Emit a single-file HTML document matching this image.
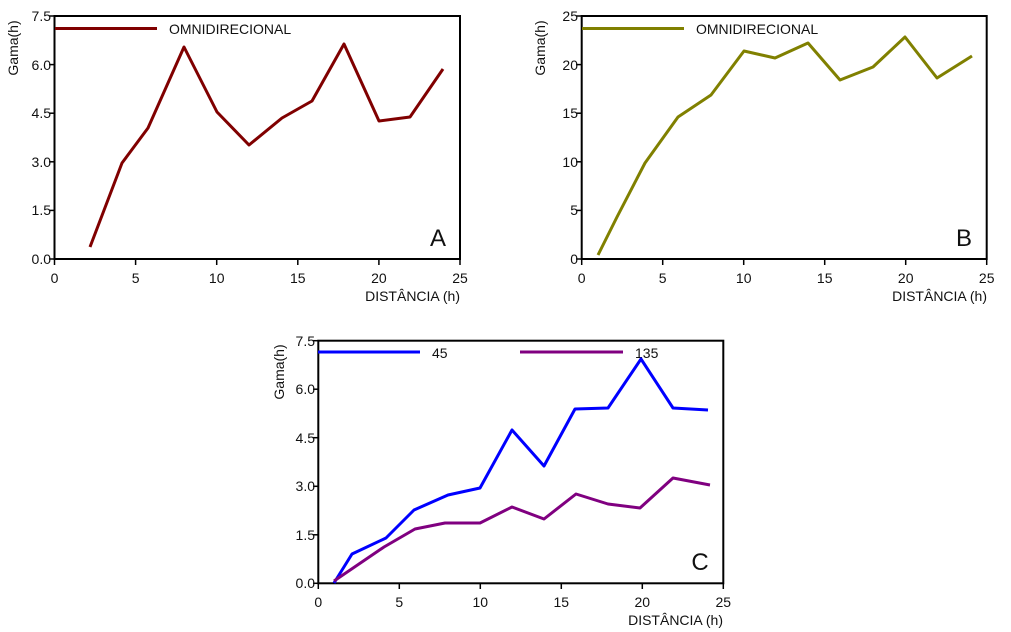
<!DOCTYPE html>
<html><head><meta charset="utf-8"><style>
body{margin:0;background:#fff;}
svg{display:block;font-family:"Liberation Sans",Arial,sans-serif;}
text{fill:#111;}
.t{font-size:14px;}
</style></head><body>
<svg width="1011" height="632" viewBox="0 0 1011 632">
<!-- Panel A -->
<g>
<rect x="54.5" y="16" width="405.5" height="243" fill="none" stroke="#000" stroke-width="2"/>
<g stroke="#000" stroke-width="1.5">
<line x1="54.5" y1="259" x2="54.5" y2="265"/><line x1="135.6" y1="259" x2="135.6" y2="265"/><line x1="216.7" y1="259" x2="216.7" y2="265"/><line x1="297.8" y1="259" x2="297.8" y2="265"/><line x1="378.9" y1="259" x2="378.9" y2="265"/><line x1="460" y1="259" x2="460" y2="265"/>
<line x1="49" y1="16" x2="54.5" y2="16"/><line x1="49" y1="64.6" x2="54.5" y2="64.6"/><line x1="49" y1="113.2" x2="54.5" y2="113.2"/><line x1="49" y1="161.8" x2="54.5" y2="161.8"/><line x1="49" y1="210.4" x2="54.5" y2="210.4"/><line x1="49" y1="259" x2="54.5" y2="259"/>
</g>
<g class="t" text-anchor="end">
<text x="51" y="21">7.5</text><text x="51" y="70">6.0</text><text x="51" y="118">4.5</text><text x="51" y="167">3.0</text><text x="51" y="215">1.5</text><text x="51" y="264">0.0</text>
</g>
<g class="t" text-anchor="middle">
<text x="54.5" y="283">0</text><text x="135.6" y="283">5</text><text x="216.7" y="283">10</text><text x="297.8" y="283">15</text><text x="378.9" y="283">20</text><text x="460" y="283">25</text>
</g>
<text class="t" x="460" y="301" text-anchor="end">DISTÂNCIA (h)</text>
<text class="t" transform="translate(18,48) rotate(-90)" text-anchor="middle">Gama(h)</text>
<text x="438" y="246" font-size="24" text-anchor="middle">A</text>
<line x1="55" y1="28.5" x2="157" y2="28.5" stroke="#800000" stroke-width="3"/>
<text class="t" x="169" y="34">OMNIDIRECIONAL</text>
<polyline fill="none" stroke="#800000" stroke-width="3" stroke-linejoin="round" points="90,247 122,163 148,128 184,47 217,112 249,145 282,118 312,101 344,44 379,121 410,117 443,69"/>
</g>
<!-- Panel B -->
<g>
<rect x="581.7" y="16" width="405" height="243" fill="none" stroke="#000" stroke-width="2"/>
<g stroke="#000" stroke-width="1.5">
<line x1="581.7" y1="259" x2="581.7" y2="265"/><line x1="662.7" y1="259" x2="662.7" y2="265"/><line x1="743.7" y1="259" x2="743.7" y2="265"/><line x1="824.7" y1="259" x2="824.7" y2="265"/><line x1="905.7" y1="259" x2="905.7" y2="265"/><line x1="986.7" y1="259" x2="986.7" y2="265"/>
<line x1="576" y1="16" x2="581.7" y2="16"/><line x1="576" y1="64.6" x2="581.7" y2="64.6"/><line x1="576" y1="113.2" x2="581.7" y2="113.2"/><line x1="576" y1="161.8" x2="581.7" y2="161.8"/><line x1="576" y1="210.4" x2="581.7" y2="210.4"/><line x1="576" y1="259" x2="581.7" y2="259"/>
</g>
<g class="t" text-anchor="end">
<text x="578" y="21">25</text><text x="578" y="70">20</text><text x="578" y="118">15</text><text x="578" y="167">10</text><text x="578" y="215">5</text><text x="578" y="264">0</text>
</g>
<g class="t" text-anchor="middle">
<text x="581.7" y="283">0</text><text x="662.7" y="283">5</text><text x="743.7" y="283">10</text><text x="824.7" y="283">15</text><text x="905.7" y="283">20</text><text x="986.7" y="283">25</text>
</g>
<text class="t" x="987" y="301" text-anchor="end">DISTÂNCIA (h)</text>
<text class="t" transform="translate(545,48) rotate(-90)" text-anchor="middle">Gama(h)</text>
<text x="964" y="246" font-size="24" text-anchor="middle">B</text>
<line x1="582" y1="28.5" x2="684" y2="28.5" stroke="#808000" stroke-width="3"/>
<text class="t" x="696" y="34">OMNIDIRECIONAL</text>
<polyline fill="none" stroke="#808000" stroke-width="3" stroke-linejoin="round" points="598,255 617,217 645,163 678,117 711,95 744,51 775,58 808,43 840,80 873,67 905,37 937,78 972,56"/>
</g>
<!-- Panel C -->
<g>
<rect x="318.3" y="340.7" width="405" height="242.6" fill="none" stroke="#000" stroke-width="2"/>
<g stroke="#000" stroke-width="1.5">
<line x1="318.3" y1="583.3" x2="318.3" y2="589"/><line x1="399.3" y1="583.3" x2="399.3" y2="589"/><line x1="480.3" y1="583.3" x2="480.3" y2="589"/><line x1="561.3" y1="583.3" x2="561.3" y2="589"/><line x1="642.3" y1="583.3" x2="642.3" y2="589"/><line x1="723.3" y1="583.3" x2="723.3" y2="589"/>
<line x1="313" y1="340.7" x2="318.3" y2="340.7"/><line x1="313" y1="389.2" x2="318.3" y2="389.2"/><line x1="313" y1="437.7" x2="318.3" y2="437.7"/><line x1="313" y1="486.3" x2="318.3" y2="486.3"/><line x1="313" y1="534.8" x2="318.3" y2="534.8"/><line x1="313" y1="583.3" x2="318.3" y2="583.3"/>
</g>
<g class="t" text-anchor="end">
<text x="315" y="346">7.5</text><text x="315" y="394">6.0</text><text x="315" y="443">4.5</text><text x="315" y="491">3.0</text><text x="315" y="540">1.5</text><text x="315" y="588">0.0</text>
</g>
<g class="t" text-anchor="middle">
<text x="318.3" y="607">0</text><text x="399.3" y="607">5</text><text x="480.3" y="607">10</text><text x="561.3" y="607">15</text><text x="642.3" y="607">20</text><text x="723.3" y="607">25</text>
</g>
<text class="t" x="723" y="625" text-anchor="end">DISTÂNCIA (h)</text>
<text class="t" transform="translate(284,372) rotate(-90)" text-anchor="middle">Gama(h)</text>
<text x="700" y="570" font-size="24" text-anchor="middle">C</text>
<line x1="318" y1="352" x2="420" y2="352" stroke="#0000ff" stroke-width="3"/>
<text class="t" x="432" y="358">45</text>
<line x1="520" y1="352" x2="623" y2="352" stroke="#800080" stroke-width="3"/>
<text class="t" x="635" y="358">135</text>
<polyline fill="none" stroke="#0000ff" stroke-width="3" stroke-linejoin="round" points="334,583 352,554 386,538 414,510 448,495 480,488 512,430 544,466 575,409 608,408 641,359 673,408 708,410"/>
<polyline fill="none" stroke="#800080" stroke-width="3" stroke-linejoin="round" points="334,581 384,547 415,529 445,523 480,523 512,507 544,519 576,494 608,504 640,508 673,478 710,485"/>
</g>
</svg>
</body></html>
